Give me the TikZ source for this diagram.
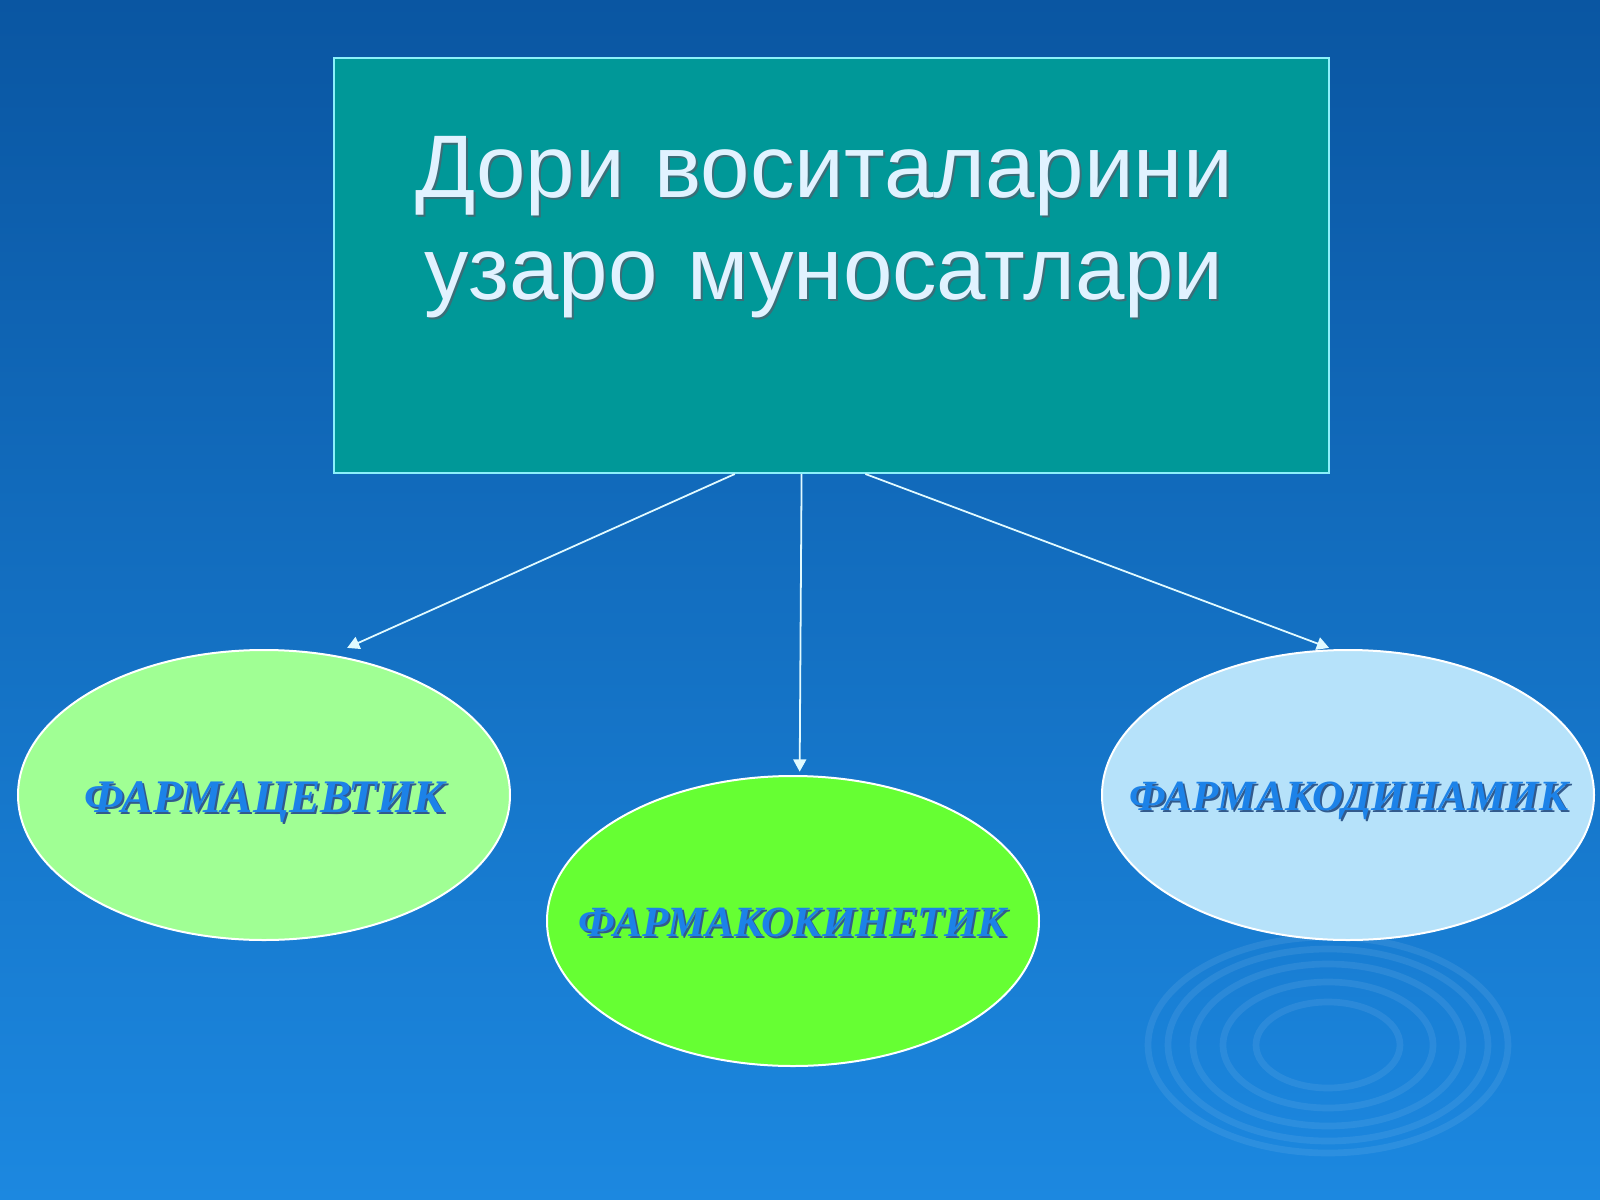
\documentclass[tikz,border=0pt]{standalone}
\usepackage{fontspec}
\setmainfont{Liberation Serif}
\newfontfamily\titlefont{Liberation Sans}
\usetikzlibrary{shapes.geometric,arrows.meta,calc}
\definecolor{bgtop}{RGB}{10,86,162}
\definecolor{bgmid}{RGB}{10,106,182}
\definecolor{bgbot}{RGB}{28,136,224}
\definecolor{boxfill}{RGB}{0,152,152}
\definecolor{boxline}{RGB}{140,240,250}
\definecolor{titlecol}{RGB}{225,242,255}
\definecolor{titleshd}{RGB}{60,110,120}
\definecolor{ellA}{RGB}{160,255,148}
\definecolor{ellB}{RGB}{102,255,51}
\definecolor{ellC}{RGB}{182,226,250}
\definecolor{labcol}{RGB}{28,130,232}
\definecolor{labshd}{RGB}{50,90,140}
\definecolor{arrcol}{RGB}{225,250,255}
\newcommand\shd[2]{\leavevmode\rlap{\hspace{0.9pt}\raisebox{-0.9pt}{\textcolor{#1}{#2}}}#2}
\tikzset{
  ellbox/.style={ellipse, draw=white, line width=0.9pt, inner sep=0pt,
    minimum width=221.4pt, minimum height=130.5pt},
  lab/.style={font=\bfseries\itshape, text=labcol},
  conn/.style={draw=arrcol, line width=0.8pt, -{Triangle[length=5.5pt,width=5.8pt]}},
  ring/.style={draw=white, draw opacity=0.08, line width=3pt}
}
\begin{document}
\begin{tikzpicture}[x=0.45pt,y=-0.45pt]
\useasboundingbox (0,0) rectangle (1600,1200);
\shade[top color=bgtop, middle color=bgmid, bottom color=bgbot] (0,0) rectangle (1600,1200);
% ripples
\foreach \rx/\ry in {180/108,160/96,135/81,105/63,72/43}
  \draw[ring] (1328,1045) ellipse[x radius=\rx, y radius=\ry];
% title box
\node[draw=boxline, fill=boxfill, line width=0.9pt, inner sep=0pt,
      minimum width=447.75pt, minimum height=186.75pt] (box) at (831.5,265.5) {};
\node[anchor=base, text width=440pt, align=center, inner sep=0pt,
      font=\titlefont\fontsize{40}{46}\selectfont, text=titlecol] (title) at (824,197)
  {\shd{titleshd}{Дори воситаларини}\\ \shd{titleshd}{узаро муносатлари}};
% ellipses
\node[ellbox, fill=ellA] (e1) at (264,795) {};
\node[ellbox, fill=ellB] (e2) at (793,921) {};
\node[ellbox, fill=ellC] (e3) at (1348,795) {};
\node[lab, anchor=base, font=\fontsize{21}{24}\selectfont\bfseries\itshape] (t1) at (265,812) {\shd{labshd}{ФАРМАЦЕВТИК}};
\node[lab, anchor=base, font=\fontsize{19.4}{22}\selectfont\bfseries\itshape] (t2) at (793,936) {\shd{labshd}{ФАРМАКОКИНЕТИК}};
\node[lab, anchor=base, font=\fontsize{19.4}{22}\selectfont\bfseries\itshape] (t3) at (1349,810) {\shd{labshd}{ФАРМАКОДИНАМИК}};
% connectors
\draw[conn] ($(box.south west)!0.403!(box.south east)$) -- ([xshift=37.4pt,yshift=0.5pt]e1.north);
\draw[conn] ($(box.south west)!0.470!(box.south east)$) -- ([xshift=3pt,yshift=1.5pt]e2.north);
\draw[conn] ($(box.south west)!0.534!(box.south east)$) -- ([xshift=-8.5pt,yshift=0.5pt]e3.north);
\end{tikzpicture}
\end{document}
